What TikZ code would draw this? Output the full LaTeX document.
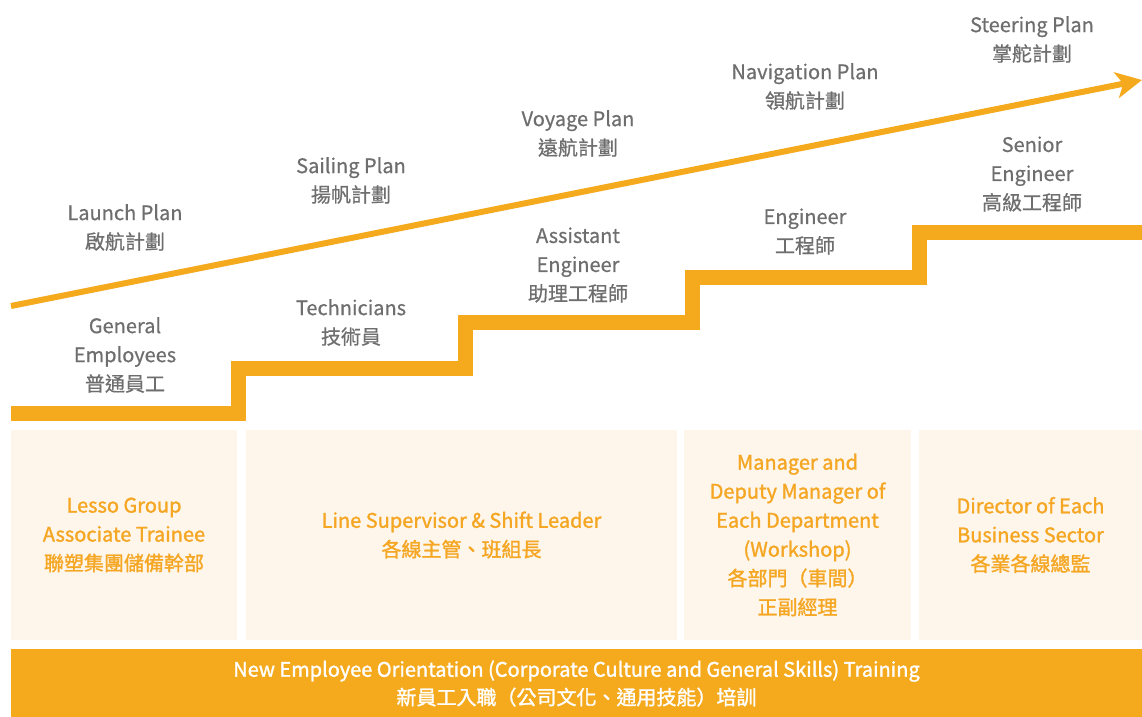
\documentclass[tikz,border=0pt]{standalone}
\usepackage{fontspec}
\setmainfont{Noto Sans CJK TC}
\newfontfamily\graffont[FakeBold=0.7]{Noto Sans CJK TC}
\newfontfamily\boldfont[FakeBold=1.4]{Noto Sans CJK TC}
\usetikzlibrary{arrows.meta}
\definecolor{orng}{HTML}{F5AA1E}
\definecolor{boxfill}{HTML}{FEF6EA}
\definecolor{graytxt}{HTML}{6E6E6E}
\definecolor{boxtxt}{HTML}{F5A623}
\tikzset{
  lbl/.style={text=graytxt, align=center, inner sep=0pt, font=\graffont\fontsize{20bp}{29bp}\selectfont},
  boxlbl/.style={text=boxtxt, align=center, inner sep=0pt, fill=boxfill, font=\boldfont\fontsize{20bp}{29bp}\selectfont, minimum height=210bp},
  stairs/.style={draw=orng, line width=15bp, line join=miter},
  growth/.style={draw=orng, line width=6bp, -{Stealth[length=26bp,width=26bp,inset=7bp]}},
  barlbl/.style={text=white, align=center, inner sep=0pt, fill=orng, font=\boldfont\fontsize{20bp}{28bp}\selectfont, minimum height=69bp, minimum width=1131bp}
}
\begin{document}
\begin{tikzpicture}[x=1bp,y=-1bp]
\useasboundingbox (0,0) rectangle (1142,717);
% staircase
\coordinate (s0) at (11,413);
\coordinate (s1) at (238,413);
\coordinate (s2) at (238,368);
\coordinate (s3) at (465,368);
\coordinate (s4) at (465,322);
\coordinate (s5) at (692,322);
\coordinate (s6) at (692,277);
\coordinate (s7) at (919,277);
\coordinate (s8) at (919,232);
\coordinate (s9) at (1142,232);
\draw[stairs] (s0) -- (s1) -- (s2) -- (s3) -- (s4) -- (s5) -- (s6) -- (s7) -- (s8) -- (s9);
% arrow
\coordinate (a0) at (11,306);
\coordinate (a1) at (1142,80);
\draw[growth] (a0) -- (a1);
% plan labels
\node[lbl] (launch) at (125,227.5) {Launch Plan\\啟航計劃};
\node[lbl] (sailing) at (351,180.5) {Sailing Plan\\揚帆計劃};
\node[lbl] (voyage) at (578,133.5) {Voyage Plan\\遠航計劃};
\node[lbl] (navigation) at (805,86.5) {Navigation Plan\\領航計劃};
\node[lbl] (steering) at (1032,39.5) {Steering Plan\\掌舵計劃};
% role labels
\node[lbl] (general) at (125,355) {General\\Employees\\普通員工};
\node[lbl] (tech) at (351,322.5) {Technicians\\技術員};
\node[lbl] (assist) at (578,265) {Assistant\\Engineer\\助理工程師};
\node[lbl] (eng) at (805,231.5) {Engineer\\工程師};
\node[lbl] (senior) at (1032,174) {Senior\\Engineer\\高級工程師};
% boxes
\node[boxlbl, minimum width=226bp] (box1) at (124,535) {Lesso Group\\Associate Trainee\\聯塑集團儲備幹部};
\node[boxlbl, minimum width=431bp] (box2) at (461.5,535) {Line Supervisor \& Shift Leader\\各線主管、班組長};
\node[boxlbl, minimum width=227bp] (box3) at (797.5,535) {Manager and\\Deputy Manager of\\Each Department\\(Workshop)\\各部門（車間）\\正副經理};
\node[boxlbl, minimum width=223bp] (box4) at (1030.5,535) {Director of Each\\Business Sector\\各業各線總監};
% bottom bar
\node[barlbl] (bar) at (576.5,683.5) {New Employee Orientation (Corporate Culture and General Skills) Training\\新員工入職（公司文化、通用技能）培訓};
\end{tikzpicture}
\end{document}
